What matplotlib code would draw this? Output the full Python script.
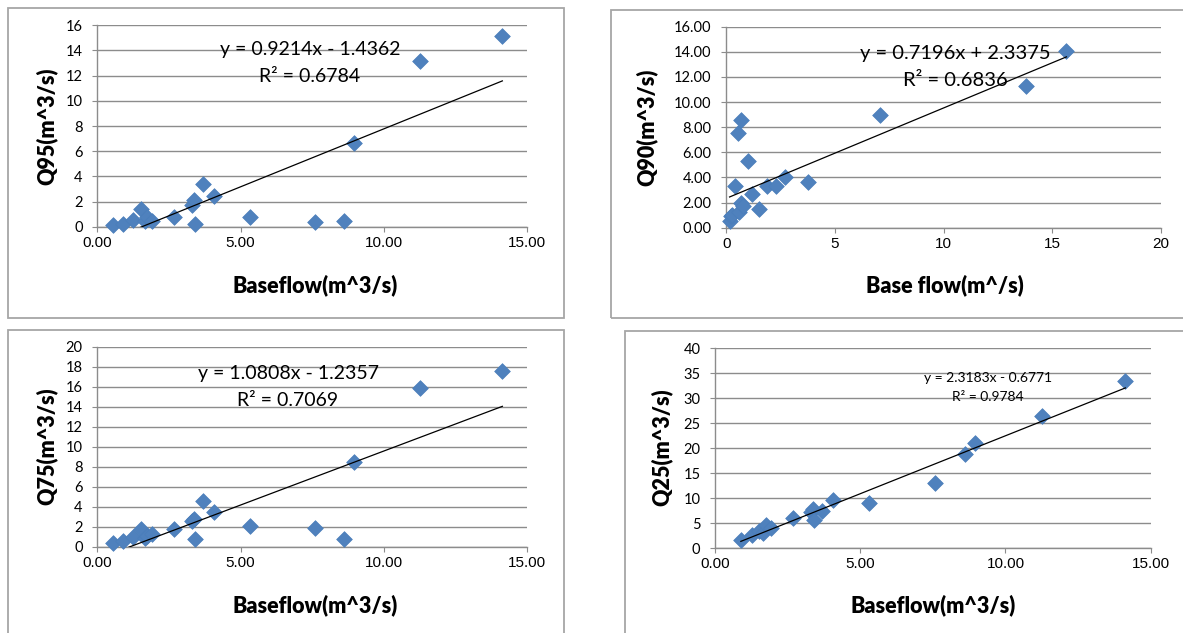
import numpy as np
import matplotlib.pyplot as plt
from matplotlib.patches import Rectangle
from matplotlib.ticker import FormatStrFormatter, MultipleLocator

W, H = 1183, 633

# data
baseflow = [0.55, 0.89, 1.26, 1.52, 1.66, 1.74, 1.92, 2.68, 3.31, 3.39, 3.41,
            3.70, 4.07, 5.31, 7.59, 8.62, 8.96, 11.27, 14.13]
q95 = [0.13, 0.19, 0.53, 1.40, 0.45, 0.75, 0.45, 0.80, 1.75, 2.10, 0.22,
       3.40, 2.40, 0.75, 0.38, 0.48, 6.62, 13.14, 15.15]
q75 = [0.40, 0.60, 0.93, 1.80, 0.90, 1.10, 1.27, 1.73, 2.60, 2.77, 0.75,
       4.53, 3.45, 2.07, 1.83, 0.80, 8.50, 15.87, 17.53]
baseflow_q25 = baseflow[1:]
q25 = [1.75, 2.60, 3.50, 3.00, 4.70, 4.00, 6.00, 7.20, 7.90, 5.60, 7.40,
       9.70, 9.00, 13.10, 18.80, 21.10, 26.40, 33.50]
baseflow_q90 = [0.15, 0.20, 0.25, 0.38, 0.52, 0.66, 0.58, 0.66, 0.77, 1.00,
                1.20, 1.51, 1.89, 2.28, 2.71, 3.74, 7.06, 13.77, 15.65]
q90 = [0.55, 0.90, 1.00, 3.35, 7.55, 8.60, 1.25, 1.95, 1.70, 5.30,
       2.65, 1.50, 3.28, 3.35, 4.05, 3.65, 8.95, 11.25, 14.10]

slopes = [0.9214, 0.7196, 1.0808, 2.3183]
intercepts = [-1.4362, 2.3375, -1.2357, -0.6771]
r2 = [0.6784, 0.6836, 0.7069, 0.9784]

xlabels = ['Baseflow(m^3/s)', 'Base flow(m^/s)', 'Baseflow(m^3/s)', 'Baseflow(m^3/s)']
ylabels = ['Q95(m^3/s)', 'Q90(m^3/s)', 'Q75(m^3/s)', 'Q25(m^3/s)']

BLUE = '#4F81BD'
GRID = '#8c8c8c'
FRAME = '#a6a6a6'


def fx(px):
    return px / W


def fy(py):
    return 1 - py / H


fig = plt.figure(figsize=(W / 100, H / 100), dpi=100)
fig.patch.set_facecolor('white')

# chart borders (left, top, right, bottom in pixels)
frames = [(7.5, 7.5, 564, 317.5), (611, 9.5, 1190, 317.5),
          (7.5, 329.5, 564, 650), (624.5, 331, 1190, 650)]
for l, t, r, b in frames:
    fig.add_artist(Rectangle((fx(l), fy(b)), fx(r) - fx(l), fy(t) - fy(b),
                             transform=fig.transFigure, fill=False,
                             edgecolor=FRAME, linewidth=1.3))

# plot areas (left, top, right, bottom in pixels)
boxes = [(97.3, 25.3, 527.3, 226.7), (726.3, 26.7, 1161, 227.7),
         (97.3, 346.7, 527.3, 546.7), (715, 348.3, 1150.7, 548.3)]
xs_all = [baseflow, baseflow_q90, baseflow, baseflow_q25]
ys_all = [q95, q90, q75, q25]
xlims = [15, 20, 15, 15]
ylims = [16, 16, 20, 40]
ysteps = [2, 2, 2, 5]
yfmt = ['%d', '%.2f', '%d', '%d']
xfmt = ['%.2f', '%d', '%.2f', '%.2f']

# text positions (pixels): equation centre, R2 centre, xlabel centre, ylabel centre
eq_pos = [(310, 50), (955, 54), (288, 374), (988, 378)]
r2_pos = [(310, 76), (955, 80), (288, 400), (988, 397)]
eq_size = [14, 14.5, 14, 10]
xl_pos = [(315, 285), (945, 285), (315, 605), (933, 605)]
yl_pos = [(47, 126), (647, 127), (47, 446), (662, 447)]

for i in range(4):
    l, t, r, b = boxes[i]
    ax = fig.add_axes([fx(l), fy(b), fx(r) - fx(l), fy(t) - fy(b)])
    x = np.array(xs_all[i])
    y = np.array(ys_all[i])
    ax.set_xlim(0, xlims[i])
    ax.set_ylim(0, ylims[i])
    ax.yaxis.set_major_locator(MultipleLocator(ysteps[i]))
    ax.xaxis.set_major_locator(MultipleLocator(5))
    ax.yaxis.set_major_formatter(FormatStrFormatter(yfmt[i]))
    ax.xaxis.set_major_formatter(FormatStrFormatter(xfmt[i]))
    ax.grid(axis='y', color=GRID, linewidth=1.0)
    ax.set_axisbelow(True)
    for s in ['top', 'right']:
        ax.spines[s].set_visible(False)
    for s in ['left', 'bottom']:
        ax.spines[s].set_color(GRID)
        ax.spines[s].set_linewidth(1.0)
    ax.tick_params(axis='x', direction='out', length=3.5, width=0.8,
                   color=GRID, pad=3, labelsize=11)
    ax.tick_params(axis='y', direction='out', length=3.5, width=0.8,
                   color=GRID, pad=7, labelsize=10.5)
    for lab in ax.get_xticklabels():
        lab.set_family('Liberation Sans')
    for lab in ax.get_yticklabels():
        lab.set_family('Lato')

    ax.scatter(x, y, marker='D', s=64, color=BLUE, edgecolor='#4A7EBB',
               linewidth=0.5, zorder=3, clip_on=False)
    xt = np.array([x.min(), x.max()])
    ax.plot(xt, slopes[i] * xt + intercepts[i], color='black', linewidth=0.9,
            zorder=4)

    sign = '+' if intercepts[i] >= 0 else '-'
    eq = 'y = %.4fx %s %.4f' % (slopes[i], sign, abs(intercepts[i]))
    fig.text(fx(eq_pos[i][0]), fy(eq_pos[i][1]), eq, ha='center', va='center',
             fontsize=eq_size[i], family='Lato')
    fig.text(fx(r2_pos[i][0]), fy(r2_pos[i][1]), 'R² = %.4f' % r2[i],
             ha='center', va='center', fontsize=eq_size[i], family='Lato')
    fig.text(fx(xl_pos[i][0]), fy(xl_pos[i][1]), xlabels[i], ha='center',
             va='center', fontsize=15.5, fontweight='heavy', family='Lato')
    fig.text(fx(yl_pos[i][0]), fy(yl_pos[i][1]), ylabels[i], ha='center',
             va='center', fontsize=15.5, fontweight='heavy', family='Lato',
             rotation=90)

fig.savefig('out.png', dpi=100, facecolor='white')
